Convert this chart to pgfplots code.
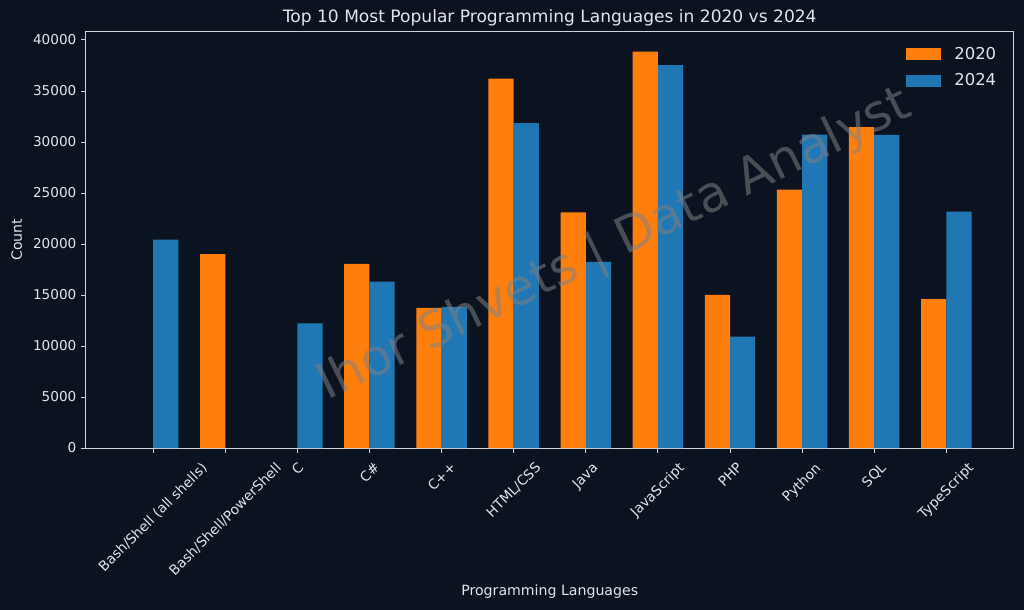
\documentclass[border=0pt]{standalone}
\usepackage{fontspec}
\setmainfont{DejaVu Sans}
\usepackage{pgfplots}
\pgfplotsset{compat=1.18}
\definecolor{bg}{HTML}{0B1320}
\definecolor{fg}{HTML}{E2E6EA}
\definecolor{spine}{HTML}{D0D4DA}
\definecolor{morange}{HTML}{FF7F0E}
\definecolor{mblue}{HTML}{1F77B4}
\begin{document}
\begin{tikzpicture}
\useasboundingbox (-64.3pt,-121.5pt) rectangle (703.7pt,336pt);
\fill[bg] (-64.3pt,-121.5pt) rectangle (703.7pt,336pt);
\begin{axis}[
  at={(0,0)}, anchor=south west,
  scale only axis, width=696pt, height=312.2pt,
  xmin=-0.935, xmax=11.935, ymin=0, ymax=40800,
  axis background/.style={fill=bg},
  axis line style={draw=spine, line width=0.6pt},
  tick style={draw=spine, line width=0.6pt},
  tick align=outside, major tick length=3.5pt,
  xtick pos=left, ytick pos=left,
  xtick={0,1,2,3,4,5,6,7,8,9,10,11},
  xticklabels={\rotatebox{45}{Bash/Shell (all shells)},\rotatebox{45}{Bash/Shell/PowerShell},\rotatebox{45}{C},\rotatebox{45}{C\#},\rotatebox{45}{C++},\rotatebox{45}{HTML/CSS},\rotatebox{45}{Java},\rotatebox{45}{JavaScript},\rotatebox{45}{PHP},\rotatebox{45}{Python},\rotatebox{45}{SQL},\rotatebox{45}{TypeScript}},
  xticklabel style={anchor=north, text=fg, font=\fontsize{10.3}{12}\selectfont, inner sep=2pt, yshift=-4.5pt},
  ytick={0,5000,10000,15000,20000,25000,30000,35000,40000},
  scaled y ticks=false,
  yticklabel style={text=fg, font=\fontsize{10.2}{12}\selectfont, /pgf/number format/.cd, fixed, precision=0, 1000 sep={}, assume math mode=true},
  title={Top 10 Most Popular Programming Languages in 2020 vs 2024},
  title style={at={(axis description cs:0.5,1)}, anchor=base, yshift=0.6pt, text=fg, font=\fontsize{12.8}{15}\selectfont},
  xlabel={Programming Languages},
  xlabel style={at={(axis description cs:0.5,-0.346)}, anchor=center, text=fg, font=\fontsize{10.6}{12}\selectfont},
  ylabel={Count},
  ylabel style={at={(axis description cs:-0.0744,0.5)}, anchor=center, text=fg, font=\fontsize{10.6}{12}\selectfont},
  legend style={draw=none, fill=none, at={(rel axis cs:1,1)}, anchor=north east, xshift=-8pt, yshift=-7.5pt, text=fg, font=\fontsize{12.3}{15}\selectfont, row sep=5pt, legend cell align=left},
  legend image code/.code={\fill[#1] (0pt,-4.5pt) rectangle (26pt,4.5pt); \path (34pt,0pt);},
]
\addplot[ybar, bar width=0.35, bar shift=-0.175, fill=morange, draw=none] coordinates {
 (1,19000) (3,18040) (4,13730) (5,36210) (6,23100) (7,38860) (8,15000) (9,25330) (10,31440) (11,14580)
};
\addlegendentry{2020}
\addplot[ybar, bar width=0.35, bar shift=0.175, fill=mblue, draw=none] coordinates {
 (0,20420) (2,12220) (3,16310) (4,13820) (5,31830) (6,18240) (7,37520) (8,10920) (9,30720) (10,30690) (11,23170)
};
\addlegendentry{2024}
\node[rotate=26, text=gray, opacity=0.55, font=\fontsize{37.5}{44}\selectfont] at (rel axis cs:0.57,0.485) {Ihor Shvets | Data Analyst};
\end{axis}
\end{tikzpicture}
\end{document}
